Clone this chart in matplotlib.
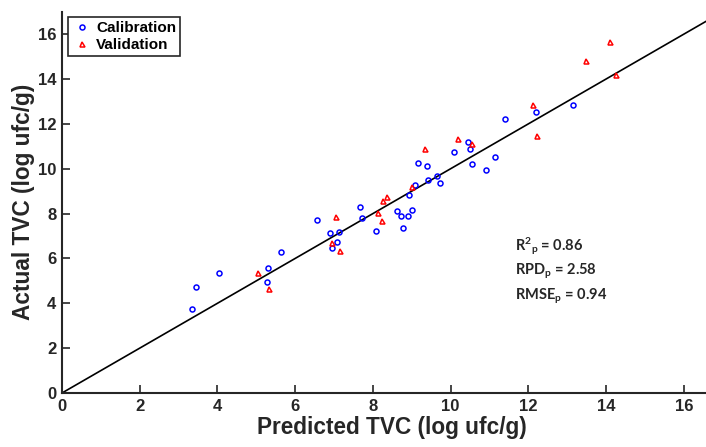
import matplotlib
matplotlib.use("Agg")
import matplotlib.pyplot as plt
import numpy as np

# Calibration set (predicted, actual)
cal_pred = [3.34, 3.44, 4.05, 5.29, 5.27, 5.63, 6.56, 6.90, 7.13, 7.08, 6.95, 7.67,
            7.73, 8.09, 8.61, 8.71, 8.77, 8.91, 9.00, 8.94, 9.08, 9.17, 9.39, 9.43,
            9.64, 9.72, 10.08, 10.44, 10.50, 10.56, 10.91, 11.13, 11.40, 12.19, 13.14]
cal_act = [3.73, 4.74, 5.33, 5.56, 4.93, 6.27, 7.71, 7.12, 7.19, 6.74, 6.48, 8.29,
           7.81, 7.23, 8.11, 7.87, 7.35, 7.87, 8.14, 8.82, 9.27, 10.24, 10.14, 9.49,
           9.68, 9.38, 10.74, 11.21, 10.89, 10.20, 9.95, 10.54, 12.20, 12.55, 12.83]
# Validation set
val_pred = [5.04, 5.32, 7.05, 6.95, 7.16, 8.12, 8.24, 8.27, 8.36, 9.01, 9.34, 10.19,
            10.56, 12.13, 12.22, 13.49, 14.09, 14.26]
val_act = [5.35, 4.65, 7.86, 6.67, 6.31, 8.02, 7.68, 8.54, 8.75, 9.19, 10.90, 11.32,
           11.11, 12.82, 11.45, 14.79, 15.66, 14.16]
ticks = [0, 2, 4, 6, 8, 10, 12, 14, 16]
tick_labels = [str(t) for t in ticks]
stats = [r"R$^{2}$$_{p}$ = 0.86", r"RPD$_{p}$ = 2.58", r"RMSE$_{p}$ = 0.94"]

DARK = "#262626"
plt.rcParams["font.family"] = ["Liberation Sans", "DejaVu Sans"]
plt.rcParams["font.weight"] = "bold"
plt.rcParams["mathtext.fontset"] = "custom"
plt.rcParams["mathtext.rm"] = "Lato:bold"
plt.rcParams["mathtext.it"] = "Lato:bold"
plt.rcParams["mathtext.bf"] = "Lato:bold"
plt.rcParams["mathtext.default"] = "rm"

fig = plt.figure(figsize=(7.06, 4.47), dpi=100)
ax = fig.add_axes([0.0878, 0.1208, 0.9122, 0.853])

ax.plot([0, 17], [0, 17], color="black", lw=1.2, zorder=1)
ax.plot(cal_pred, cal_act, "o", ls="none", mfc="none", mec="blue", mew=1.1, ms=3.6,
        label="Calibration", zorder=3)
ax.plot(val_pred, val_act, "^", ls="none", mfc="none", mec="red", mew=1.1, ms=3.6,
        label="Validation", zorder=3)

ax.set_xlim(0, 16.57)
ax.set_ylim(0, 17)
ax.set_xticks(ticks, labels=tick_labels, fontsize=12, fontweight="bold",
              family="Liberation Sans")
ax.set_yticks(ticks, labels=tick_labels, fontsize=12, fontweight="bold",
              family="Liberation Sans")
for s in ("top", "right"):
    ax.spines[s].set_visible(False)
for s in ("left", "bottom"):
    ax.spines[s].set_linewidth(1.5)
    ax.spines[s].set_color(DARK)
ax.tick_params(direction="in", length=6, width=1.2, color=DARK, labelcolor=DARK,
               pad=4)

ax.set_xlabel("Predicted TVC (log ufc/g)", fontsize=16.3, fontweight="bold",
              color=DARK, labelpad=2)
ax.xaxis.label.set_x(0.512)
ax.set_ylabel("Actual TVC (log ufc/g)", fontsize=16.3, fontweight="bold",
              color=DARK, labelpad=2)

leg = ax.legend(loc="upper left", bbox_to_anchor=(0.0093, 0.9856), fancybox=False,
                edgecolor=DARK, framealpha=1, handletextpad=0.2, borderpad=0.25,
                labelspacing=0.2, handlelength=1.4, borderaxespad=0,
                prop={"weight": "bold", "size": 11})
leg.get_frame().set_linewidth(1.2)

for i, t in enumerate(stats):
    ax.text(11.65, 6.55 - i * 1.12, t, fontsize=10.5, fontweight="bold",
            family=["Lato", "DejaVu Sans"], color=DARK, va="center")

fig.savefig("out.png", dpi=100)
